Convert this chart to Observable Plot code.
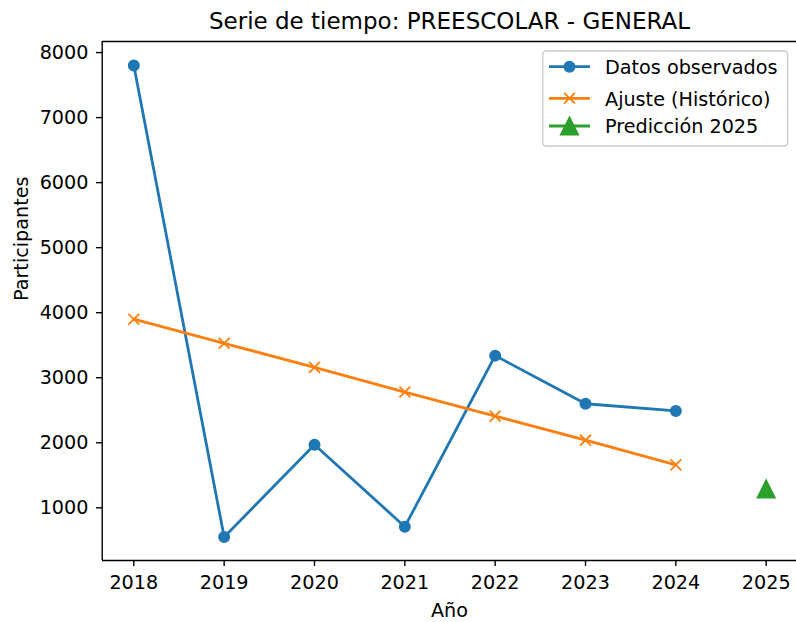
<!DOCTYPE html>
<html><head><meta charset="utf-8">
<script src="https://cdn.jsdelivr.net/npm/d3@7"></script>
<script src="https://cdn.jsdelivr.net/npm/@observablehq/plot@0.6"></script>
<style>body{margin:0;background:#fff} #chart{width:796px;height:622px;overflow:hidden}</style>
</head><body><div id="chart"></div>
<script>
// ---- data ----
const years = [2018, 2019, 2020, 2021, 2022, 2023, 2024];
const observed = [7800, 550, 1970, 710, 3340, 2600, 2490];
const fitted = [3900, 3530, 3160, 2780, 2410, 2040, 1660];
const predYears = [2025];
const predValues = [1290];
const xTicks = [2018, 2019, 2020, 2021, 2022, 2023, 2024, 2025];
const yTicks = [1000, 2000, 3000, 4000, 5000, 6000, 7000, 8000];
const titleText = "Serie de tiempo: PREESCOLAR - GENERAL";
const xLabel = "Año";
const yLabel = "Participantes";
const legendLabels = ["Datos observados", "Ajuste (Histórico)", "Predicción 2025"];
const colors = ["#1f77b4", "#ff7f0e", "#2ca02c"];

const obsData = years.map((year, i) => ({year, value: observed[i]}));
const fitData = years.map((year, i) => ({year, value: fitted[i]}));
const predData = predYears.map((year, i) => ({year, value: predValues[i]}));

const triUp = {draw(ctx, size) {
  const h = Math.sqrt(size / Math.PI);
  ctx.moveTo(0, -h); ctx.lineTo(h, h); ctx.lineTo(-h, h); ctx.closePath();
}};

const xDom = [2017.65, 2025.35];
const yDom = [190, 8170];

const chart = Plot.plot({
  width: 796, height: 622,
  marginLeft: 102, marginRight: 0, marginTop: 41, marginBottom: 62,
  style: {fontFamily: "DejaVu Sans", fontSize: "19.2px", background: "white", color: "black"},
  x: {domain: xDom, range: [101.7, 797.3]},
  y: {domain: yDom},
  marks: [
    Plot.ruleX([xDom[0]], {stroke: "black", strokeWidth: 1.4}),
    Plot.ruleY([yDom[0]], {stroke: "black", strokeWidth: 1.4}),
    Plot.ruleY([yDom[1]], {stroke: "black", strokeWidth: 1.4}),
    Plot.axisX({ticks: xTicks, tickFormat: d => String(d), tickSize: 6, tickPadding: 9, label: null, strokeWidth: 1.4, strokeOpacity: 1}),
    Plot.axisY({ticks: yTicks, tickFormat: d => String(d), tickSize: 6, tickPadding: 8, label: null, strokeWidth: 1.4, strokeOpacity: 1}),
    Plot.line(obsData, {x: "year", y: "value", stroke: colors[0], strokeWidth: 2.8}),
    Plot.dot(obsData, {x: "year", y: "value", r: 5.2, fill: colors[0], stroke: colors[0], strokeWidth: 1.6}),
    Plot.line(fitData, {x: "year", y: "value", stroke: colors[1], strokeWidth: 2.8}),
    Plot.dot(fitData, {x: "year", y: "value", symbol: "times", r: 5, stroke: colors[1], strokeWidth: 1.8}),
    Plot.dot(predData, {x: "year", y: "value", symbol: triUp, r: 8.7, fill: colors[2], stroke: colors[2], strokeWidth: 1.7}),
    Plot.text([titleText], {frameAnchor: "top", lineAnchor: "bottom", dy: -12.7, fontSize: 23, fill: "black"}),
    Plot.text([xLabel], {frameAnchor: "bottom", lineAnchor: "bottom", dy: 56.7, fill: "black"}),
    Plot.text([yLabel], {frameAnchor: "left", rotate: -90, dx: -81, fill: "black"})
  ]
});
document.getElementById("chart").appendChild(chart);

// ---- legend ----
const svg = d3.select(chart);
const lg = svg.append("g").attr("font-family", "DejaVu Sans").attr("font-size", "19.2px").attr("text-anchor", "start");
lg.append("rect").attr("x", 542.7).attr("y", 51).attr("width", 245).attr("height", 95)
  .attr("rx", 3.5).attr("fill", "white").attr("fill-opacity", 0.8).attr("stroke", "#cccccc").attr("stroke-width", 1.4);
const rowLine = [66.7, 98.3, 126];
const rowBase = [74.3, 105.7, 133.3];
legendLabels.forEach((lab, i) => {
  lg.append("line").attr("x1", 549).attr("x2", 590).attr("y1", rowLine[i]).attr("y2", rowLine[i])
    .attr("stroke", colors[i]).attr("stroke-width", 2.8);
  const cx = 569.5, cy = rowLine[i];
  if (i === 0) {
    lg.append("circle").attr("cx", cx).attr("cy", cy).attr("r", 5.2).attr("fill", colors[0]).attr("stroke", colors[0]).attr("stroke-width", 1.6);
  } else if (i === 1) {
    const h = 5.4;
    lg.append("path").attr("d", `M${cx-h},${cy-h}L${cx+h},${cy+h}M${cx-h},${cy+h}L${cx+h},${cy-h}`)
      .attr("stroke", colors[1]).attr("stroke-width", 1.8).attr("fill", "none");
  } else {
    const h = 8.7;
    lg.append("path").attr("d", `M${cx},${cy-h}L${cx+h},${cy+h}L${cx-h},${cy+h}Z`)
      .attr("fill", colors[2]).attr("stroke", colors[2]).attr("stroke-width", 1.7);
  }
  lg.append("text").attr("x", 605).attr("y", rowBase[i]).attr("fill", "black").text(lab);
});
</script>
</body></html>
